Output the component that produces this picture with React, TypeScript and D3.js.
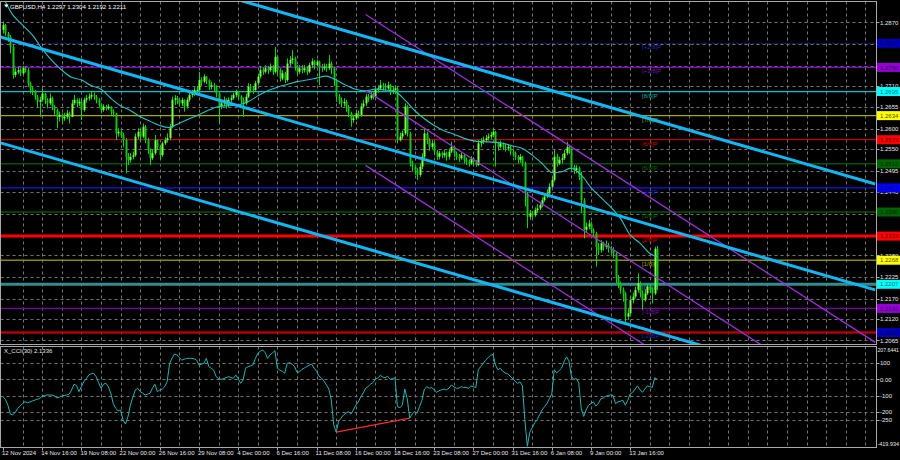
import React from "react";
import * as d3 from "d3";

// ---------------- data ----------------
const headerText = "GBPUSD,H4  1.2297 1.2304 1.2192 1.2211";
const cciTitle = "X_CCI(30) 2.1336";

const firstOpen = 1.2851;
const closes = [
  1.2863,1.2842,1.2834,1.2808,1.2737,1.2745,1.2749,1.2741,1.2754,1.2749,
  1.2716,1.2703,1.2695,1.2682,1.2669,1.2674,1.2690,1.2674,1.2665,1.2678,
  1.2657,1.2648,1.2631,1.2636,1.2627,1.2631,1.2640,1.2631,1.2665,1.2674,
  1.2665,1.2669,1.2648,1.2674,1.2678,1.2682,1.2686,1.2682,1.2674,1.2661,
  1.2648,1.2657,1.2652,1.2657,1.2644,1.2640,1.2589,1.2593,1.2585,1.2572,
  1.2530,1.2522,1.2530,1.2534,1.2581,1.2593,1.2581,1.2606,1.2572,1.2547,
  1.2526,1.2539,1.2572,1.2555,1.2534,1.2564,1.2572,1.2577,1.2606,1.2674,
  1.2678,1.2674,1.2665,1.2674,1.2657,1.2674,1.2686,1.2690,1.2699,1.2699,
  1.2724,1.2720,1.2733,1.2724,1.2707,1.2711,1.2707,1.2690,1.2657,1.2665,
  1.2674,1.2661,1.2674,1.2678,1.2686,1.2695,1.2682,1.2674,1.2665,1.2682,
  1.2707,1.2703,1.2699,1.2716,1.2733,1.2749,1.2745,1.2754,1.2749,1.2758,
  1.2745,1.2783,1.2749,1.2728,1.2741,1.2724,1.2766,1.2775,1.2779,1.2758,
  1.2745,1.2754,1.2749,1.2754,1.2745,1.2762,1.2771,1.2762,1.2771,1.2758,
  1.2754,1.2758,1.2754,1.2766,1.2754,1.2724,1.2682,1.2674,1.2665,1.2669,
  1.2657,1.2640,1.2623,1.2627,1.2640,1.2636,1.2657,1.2665,1.2682,1.2678,
  1.2686,1.2682,1.2699,1.2703,1.2711,1.2707,1.2703,1.2711,1.2695,1.2699,
  1.2703,1.2572,1.2581,1.2589,1.2657,1.2589,1.2513,1.2505,1.2496,1.2484,
  1.2505,1.2530,1.2589,1.2572,1.2555,1.2564,1.2543,1.2530,1.2539,1.2534,
  1.2539,1.2530,1.2543,1.2555,1.2539,1.2530,1.2526,1.2534,1.2522,1.2517,
  1.2513,1.2526,1.2517,1.2509,1.2564,1.2568,1.2572,1.2577,1.2581,1.2585,
  1.2593,1.2564,1.2555,1.2564,1.2555,1.2551,1.2555,1.2543,1.2539,1.2530,
  1.2522,1.2530,1.2513,1.2437,1.2378,1.2387,1.2382,1.2395,1.2399,1.2408,
  1.2420,1.2429,1.2437,1.2454,1.2471,1.2530,1.2513,1.2522,1.2526,1.2539,
  1.2555,1.2547,1.2505,1.2496,1.2501,1.2479,1.2420,1.2345,1.2353,1.2361,
  1.2345,1.2336,1.2302,1.2294,1.2311,1.2302,1.2306,1.2298,1.2294,1.2285,
  1.2226,1.2210,1.2193,1.2184,1.2125,1.2134,1.2167,1.2176,1.2193,1.2210,
  1.2184,1.2167,1.2184,1.2201,1.2193,1.2184,1.2297,1.2211,
];
const highs = [
  1.2872,1.2866,1.2846,1.2838,1.2813,1.2754,1.2758,1.2754,1.2760,1.2758,
  1.2754,1.2720,1.2707,1.2699,1.2686,1.2682,1.2703,1.2692,1.2678,1.2690,
  1.2682,1.2661,1.2652,1.2644,1.2640,1.2641,1.2648,1.2644,1.2674,1.2686,
  1.2678,1.2678,1.2674,1.2680,1.2686,1.2690,1.2695,1.2692,1.2686,1.2678,
  1.2665,1.2663,1.2661,1.2663,1.2658,1.2650,1.2641,1.2602,1.2598,1.2591,
  1.2577,1.2539,1.2539,1.2543,1.2589,1.2602,1.2598,1.2614,1.2610,1.2577,
  1.2551,1.2547,1.2585,1.2574,1.2560,1.2568,1.2579,1.2589,1.2613,1.2682,
  1.2686,1.2684,1.2678,1.2680,1.2675,1.2680,1.2692,1.2699,1.2706,1.2709,
  1.2745,1.2731,1.2739,1.2734,1.2726,1.2720,1.2717,1.2711,1.2695,1.2675,
  1.2682,1.2678,1.2680,1.2686,1.2692,1.2700,1.2697,1.2686,1.2680,1.2690,
  1.2716,1.2714,1.2709,1.2722,1.2739,1.2760,1.2756,1.2762,1.2760,1.2766,
  1.2762,1.2808,1.2787,1.2754,1.2749,1.2745,1.2779,1.2785,1.2800,1.2783,
  1.2762,1.2762,1.2762,1.2762,1.2758,1.2768,1.2779,1.2775,1.2776,1.2773,
  1.2765,1.2766,1.2765,1.2787,1.2771,1.2758,1.2728,1.2689,1.2680,1.2678,
  1.2674,1.2661,1.2644,1.2636,1.2648,1.2647,1.2665,1.2674,1.2689,1.2689,
  1.2695,1.2692,1.2706,1.2711,1.2724,1.2717,1.2716,1.2720,1.2714,1.2709,
  1.2711,1.2707,1.2591,1.2596,1.2665,1.2661,1.2593,1.2520,1.2509,1.2501,
  1.2513,1.2539,1.2602,1.2593,1.2577,1.2572,1.2568,1.2547,1.2545,1.2543,
  1.2547,1.2543,1.2551,1.2568,1.2557,1.2543,1.2537,1.2540,1.2537,1.2528,
  1.2523,1.2532,1.2528,1.2522,1.2572,1.2577,1.2581,1.2585,1.2589,1.2593,
  1.2602,1.2596,1.2568,1.2571,1.2566,1.2562,1.2562,1.2557,1.2549,1.2543,
  1.2534,1.2537,1.2532,1.2517,1.2441,1.2395,1.2393,1.2402,1.2410,1.2416,
  1.2427,1.2437,1.2447,1.2463,1.2479,1.2547,1.2537,1.2530,1.2537,1.2547,
  1.2568,1.2560,1.2551,1.2509,1.2509,1.2505,1.2492,1.2425,1.2363,1.2370,
  1.2366,1.2349,1.2340,1.2312,1.2319,1.2315,1.2318,1.2312,1.2304,1.2301,
  1.2290,1.2231,1.2214,1.2199,1.2188,1.2146,1.2176,1.2186,1.2201,1.2235,
  1.2214,1.2191,1.2194,1.2210,1.2208,1.2199,1.2302,1.2304,
];
const lows = [
  1.2842,1.2836,1.2821,1.2792,1.2728,1.2731,1.2739,1.2734,1.2737,1.2743,
  1.2707,1.2690,1.2686,1.2674,1.2655,1.2631,1.2669,1.2663,1.2652,1.2661,
  1.2648,1.2636,1.2602,1.2619,1.2614,1.2621,1.2625,1.2614,1.2630,1.2661,
  1.2655,1.2658,1.2623,1.2644,1.2667,1.2672,1.2675,1.2674,1.2665,1.2655,
  1.2640,1.2644,1.2647,1.2648,1.2636,1.2631,1.2572,1.2581,1.2577,1.2555,
  1.2488,1.2509,1.2515,1.2523,1.2530,1.2574,1.2568,1.2577,1.2564,1.2537,
  1.2509,1.2522,1.2534,1.2547,1.2522,1.2530,1.2560,1.2566,1.2572,1.2602,
  1.2661,1.2663,1.2657,1.2658,1.2644,1.2652,1.2669,1.2680,1.2684,1.2689,
  1.2695,1.2709,1.2716,1.2714,1.2699,1.2700,1.2695,1.2680,1.2614,1.2650,
  1.2658,1.2652,1.2655,1.2667,1.2674,1.2680,1.2674,1.2663,1.2631,1.2661,
  1.2678,1.2692,1.2689,1.2695,1.2711,1.2728,1.2737,1.2741,1.2739,1.2745,
  1.2737,1.2741,1.2737,1.2720,1.2724,1.2716,1.2720,1.2758,1.2765,1.2748,
  1.2737,1.2739,1.2741,1.2743,1.2737,1.2741,1.2754,1.2751,1.2758,1.2711,
  1.2745,1.2748,1.2745,1.2749,1.2739,1.2709,1.2669,1.2663,1.2655,1.2657,
  1.2644,1.2630,1.2606,1.2616,1.2623,1.2627,1.2631,1.2652,1.2658,1.2669,
  1.2674,1.2675,1.2678,1.2692,1.2699,1.2697,1.2695,1.2699,1.2686,1.2689,
  1.2690,1.2564,1.2568,1.2574,1.2585,1.2581,1.2505,1.2492,1.2484,1.2471,
  1.2479,1.2498,1.2526,1.2562,1.2545,1.2549,1.2534,1.2522,1.2523,1.2526,
  1.2528,1.2520,1.2523,1.2539,1.2530,1.2522,1.2517,1.2522,1.2513,1.2509,
  1.2505,1.2509,1.2509,1.2505,1.2506,1.2555,1.2562,1.2566,1.2571,1.2574,
  1.2579,1.2505,1.2545,1.2551,1.2547,1.2543,1.2545,1.2534,1.2530,1.2522,
  1.2513,1.2515,1.2505,1.2404,1.2349,1.2370,1.2374,1.2378,1.2388,1.2395,
  1.2402,1.2416,1.2425,1.2431,1.2450,1.2467,1.2505,1.2509,1.2513,1.2522,
  1.2534,1.2537,1.2496,1.2486,1.2488,1.2471,1.2387,1.2323,1.2338,1.2346,
  1.2336,1.2326,1.2252,1.2281,1.2287,1.2292,1.2296,1.2287,1.2284,1.2273,
  1.2210,1.2197,1.2183,1.2163,1.2104,1.2117,1.2129,1.2159,1.2171,1.2186,
  1.2174,1.2142,1.2163,1.2180,1.2184,1.2159,1.2180,1.2192,
];

// moving average [bar, price]
const maSeries: [number, number][] = [
  [0,1.2935],[4,1.2889],[8,1.2863],[12,1.2838],[16,1.2803],[20,1.2773],[24,1.2749],[28,1.2731],
  [32,1.2724],[36,1.2710],[40,1.2701],[44,1.2678],[48,1.2659],[52,1.2647],[56,1.2631],[60,1.2620],
  [64,1.2609],[68,1.2604],[72,1.2615],[76,1.2626],[80,1.2636],[84,1.2648],[88,1.2657],[92,1.2659],
  [96,1.2661],[100,1.2669],[104,1.2684],[108,1.2697],[112,1.2706],[116,1.2713],[120,1.2720],[124,1.2724],
  [128,1.2729],[132,1.2734],[136,1.2724],[140,1.2711],[144,1.2701],[148,1.2697],[152,1.2701],[156,1.2699],
  [160,1.2695],[164,1.2674],[168,1.2647],[172,1.2626],[176,1.2609],[180,1.2596],[184,1.2587],[188,1.2577],
  [192,1.2570],[196,1.2568],[200,1.2567],[204,1.2564],[208,1.2557],[212,1.2551],[216,1.2534],[220,1.2513],
  [224,1.2490],[228,1.2492],[232,1.2501],[236,1.2484],[240,1.2452],[244,1.2427],[248,1.2403],[252,1.2374],
  [256,1.2332],[260,1.2311],[264,1.2285],[267,1.2277],
];

// CCI(30) [bar, value]
const cciSeries: [number, number][] = [
  [0,-107],[1,-125],[2,-160],[3,-215],[4,-220],[5,-205],[6,-180],[7,-165],[8,-150],[9,-138],
  [10,-145],[11,-140],[12,-134],[13,-128],[14,-124],[15,-118],[16,-103],[17,-100],[18,-97],[19,-97],
  [20,-97],[21,-103],[22,-115],[23,-110],[24,-103],[25,-100],[26,-97],[27,-91],[28,-66],[29,-30],
  [30,-38],[31,-76],[32,-45],[33,-14],[34,5],[35,27],[36,35],[37,38],[38,17],[39,-20],
  [40,-55],[41,-30],[42,-24],[43,-45],[44,-86],[45,-150],[46,-180],[47,-195],[48,-190],[49,-252],
  [50,-277],[51,-232],[52,-160],[53,-110],[54,-66],[55,-55],[56,-76],[57,-85],[58,-97],[59,-92],
  [60,-86],[61,-55],[62,-30],[63,-76],[64,-66],[65,-60],[66,-45],[67,-14],[68,100],[69,131],
  [70,158],[71,152],[72,135],[73,120],[74,125],[75,131],[76,131],[77,131],[78,128],[79,120],
  [80,89],[81,95],[82,100],[83,131],[84,80],[85,69],[86,58],[87,17],[88,5],[89,0],
  [90,5],[91,10],[92,17],[93,12],[94,7],[95,27],[96,5],[97,-24],[98,-4],[99,69],
  [100,79],[101,84],[102,89],[103,130],[104,162],[105,175],[106,183],[107,166],[108,131],[109,152],
  [110,165],[111,178],[112,69],[113,58],[114,50],[115,38],[116,100],[117,104],[118,95],[119,79],
  [120,44],[121,46],[122,62],[123,71],[124,80],[125,89],[126,95],[127,70],[128,50],[129,20],
  [130,9],[131,-10],[132,-35],[133,-60],[134,-128],[135,-283],[136,-327],[137,-260],[138,-240],[139,-221],
  [140,-210],[141,-200],[142,-215],[143,-190],[144,-160],[145,-140],[146,-110],[147,-85],[148,-55],[149,-45],
  [150,-30],[151,-20],[152,0],[153,10],[154,25],[155,15],[156,10],[157,20],[158,0],[159,5],
  [160,10],[161,-170],[162,-175],[163,-160],[164,-60],[165,-120],[166,-240],[167,-215],[168,-200],[169,-210],
  [170,-170],[171,-130],[172,-60],[173,-45],[174,-55],[175,-50],[176,-65],[177,-80],[178,-70],[179,-65],
  [180,-60],[181,-65],[182,-55],[183,-35],[184,-45],[185,-55],[186,-55],[187,-45],[188,-50],[189,-50],
  [190,-55],[191,-40],[192,-45],[193,-50],[194,60],[195,80],[196,100],[197,120],[198,135],[199,150],
  [200,155],[201,90],[202,60],[203,70],[204,50],[205,40],[206,35],[207,20],[208,5],[209,-10],
  [210,-25],[211,-15],[212,-40],[213,-250],[214,-415],[215,-330],[216,-300],[217,-270],[218,-250],[219,-220],
  [220,-190],[221,-170],[222,-150],[223,-120],[224,-90],[225,60],[226,40],[227,55],[228,70],[229,110],
  [230,140],[231,115],[232,20],[233,0],[234,5],[235,-20],[236,-180],[237,-230],[238,-190],[239,-160],
  [240,-150],[241,-140],[242,-165],[243,-150],[244,-120],[245,-115],[246,-105],[247,-100],[248,-95],[249,-100],
  [250,-150],[251,-140],[252,-135],[253,-130],[254,-160],[255,-130],[256,-90],[257,-80],[258,-60],[259,-40],
  [260,-65],[261,-80],[262,-60],[263,-40],[264,-45],[265,-50],[266,10],[267,2],
];

const timeLabels = [
  "12 Nov 2024","14 Nov 16:00","19 Nov 08:00","22 Nov 00:00","26 Nov 16:00","29 Nov 08:00",
  "4 Dec 00:00","6 Dec 16:00","11 Dec 08:00","16 Dec 00:00","18 Dec 16:00","23 Dec 08:00",
  "27 Dec 00:00","31 Dec 16:00","6 Jan 08:00","9 Jan 00:00","13 Jan 16:00",
];
const timeLabelBars = [0,16,32,48,64,80,96,112,128,144,160,176,192,208,224,240,256];

const priceTicks = [1.2870,1.2815,1.2760,1.2710,1.2655,1.2600,1.2550,1.2495,1.2440,1.2385,1.2330,1.2280,1.2225,1.2170,1.2120,1.2065];
const priceDomain = [1.2065, 1.2870];

const murrayNames = ["[+2/8]P","[+1/8]P","[8/8]P","[7/8]P","[6/8]P","[5/8]P","[4/8]P","[3/8]P","[2/8]P","[1/8]P","[0/8]P","[-1/8]P","[-2/8]P"];
const murrayPrices = [1.2817,1.2756,1.2695,1.2634,1.2573,1.2512,1.2451,1.2390,1.2329,1.2268,1.2207,1.2146,1.2085];

const cciTicks = [100, 0, -100, -200, -250];
const cciTickLabels = ["100", "0.00", "-100", "-200", "-250"];
const cciRange = [-419.934, 207.6441];
const cciRangeLabels = ["-419.934", "207.6441"];

const blueChannelBars = [-1, 356];
const blueChannelFrom = [1.3101, 1.2833, 1.2565];
const blueChannelTo = [1.2461, 1.2193, 1.1925];
const purpleChannelBars = [148, 356];
const purpleChannelFrom = [1.2890, 1.2698, 1.2508];
const purpleChannelTo = [1.2060, 1.1868, 1.1678];
const divergenceBars = [136, 166];
const divergenceValues = [-327, -240];

// ---------------- styles ----------------
const MURRAY_STYLE = [
  { line: "#2424b0", w: 1, dash: "2,2", box: "#0000b8", txt: "#00005a", lab: "#2a2ab4" },
  { line: "#8c00cc", w: 1.2, dash: "", box: "#9400d3", txt: "#300050", lab: "#7a10b8" },
  { line: "#00c4cc", w: 1.2, dash: "", box: "#00ffff", txt: "#007070", lab: "#10a8a8" },
  { line: "#a8a800", w: 1.2, dash: "", box: "#ffff00", txt: "#505000", lab: "#a0a000" },
  { line: "#c00000", w: 1.3, dash: "", box: "#ff0000", txt: "#600000", lab: "#c01010" },
  { line: "#005400", w: 1.6, dash: "", box: "#006400", txt: "#002800", lab: "#0a6a0a" },
  { line: "#1818e0", w: 1.3, dash: "", box: "#0000ff", txt: "#000070", lab: "#2222c8" },
  { line: "#005400", w: 1.3, dash: "", box: "#006400", txt: "#002800", lab: "#0a6a0a" },
  { line: "#ff0000", w: 3, dash: "", box: "#ff0000", txt: "#600000", lab: "#c01010" },
  { line: "#8c8c00", w: 1.6, dash: "", box: "#ffff00", txt: "#505000", lab: "#a0a000" },
  { line: "#328c8c", w: 3, dash: "", box: "#00ffff", txt: "#007070", lab: "#10a8a8" },
  { line: "#7a00a0", w: 1.2, dash: "", box: "#9400d3", txt: "#300050", lab: "#7a10b8" },
  { line: "#b00000", w: 2.5, dash: "", box: "#0000b8", txt: "#00005a", lab: "#2a2ab4" },
];

const FONT = "'Liberation Sans', Arial, sans-serif";
const LEFT = 0.5, RIGHT = 876.5;
const MAIN_TOP = 1.5, MAIN_BOTTOM = 344.5;
const CCI_TOP = 346.5, CCI_BOTTOM = 447.5;

export default function App() {
  const x = d3.scaleLinear().domain([0, 267]).range([3, 3 + 2.45 * 267]);
  const y = d3.scaleLinear().domain(priceDomain).range([340.4, 22.4]);
  const yc = d3.scaleLinear().domain(cciRange).range([447, 346]);
  const opens = closes.map((c, i) => (i === 0 ? firstOpen : closes[i - 1]));
  const px = (v: number) => Math.round(v) + 0.5;

  const gridBars = d3.range(8, 360, 8).filter((b) => x(b) < RIGHT - 2);

  const maLine = d3
    .line<[number, number]>()
    .x((d) => x(d[0]))
    .y((d) => y(d[1]))
    .curve(d3.curveCatmullRom.alpha(0.5));
  const cciLine = d3
    .line<[number, number]>()
    .x((d) => x(d[0]))
    .y((d) => yc(d[1]));

  return (
    <svg
      width={900}
      height={460}
      style={{ position: "fixed", left: 0, top: 0, display: "block" }}
      fontFamily={FONT}
    >
      <defs>
        <clipPath id="mainClip">
          <rect x={1} y={2} width={875} height={342} />
        </clipPath>
        <clipPath id="cciClip">
          <rect x={1} y={347} width={875} height={100} />
        </clipPath>
      </defs>
      <rect x={0} y={0} width={900} height={460} fill="#000" />

      {/* grid */}
      <g stroke="#8a8a8a" strokeWidth={1} strokeDasharray="3,3" opacity={0.85}>
        {gridBars.map((b) => (
          <line key={"vg" + b} x1={px(x(b))} x2={px(x(b))} y1={MAIN_TOP} y2={MAIN_BOTTOM} />
        ))}
        {gridBars.map((b) => (
          <line key={"vgc" + b} x1={px(x(b))} x2={px(x(b))} y1={CCI_TOP} y2={CCI_BOTTOM} />
        ))}
        {priceTicks.map((p) => (
          <line key={"hg" + p} x1={LEFT} x2={RIGHT} y1={px(y(p))} y2={px(y(p))} />
        ))}
        {cciTicks.map((v) => (
          <line key={"hc" + v} x1={LEFT} x2={RIGHT} y1={px(yc(v))} y2={px(yc(v))} />
        ))}
      </g>

      {/* main panel content */}
      <g clipPath="url(#mainClip)">
        {murrayPrices.map((p, i) => (
          <line
            key={"ml" + i}
            x1={LEFT}
            x2={RIGHT}
            y1={y(p)}
            y2={y(p)}
            stroke={MURRAY_STYLE[i].line}
            strokeWidth={MURRAY_STYLE[i].w}
            strokeDasharray={MURRAY_STYLE[i].dash || undefined}
          />
        ))}
        {murrayPrices.map((p, i) => (
          <text
            key={"mt" + i}
            x={642}
            y={y(p) + 6}
            fontSize={6}
            fill={MURRAY_STYLE[i].lab}
          >
            {murrayNames[i]}
          </text>
        ))}

        {/* candles */}
        {closes.map((c, i) => {
          const o = opens[i];
          const xc = px(x(i));
          const y0 = y(o), y1 = y(c);
          const top = Math.min(y0, y1);
          const bh = Math.max(1, Math.abs(y0 - y1));
          const bull = c >= o;
          return (
            <g key={"c" + i}>
              <line x1={xc} x2={xc} y1={y(highs[i])} y2={y(lows[i])} stroke="#00dc00" strokeWidth={1} />
              <rect x={xc - 1} y={top} width={2} height={bh} fill={bull ? "#7dff4a" : "#18c018"} />
            </g>
          );
        })}

        {/* moving average */}
        <path d={maLine(maSeries) || ""} fill="none" stroke="#2cc0c0" strokeWidth={1.1} />

        {/* purple regression channel */}
        {purpleChannelFrom.map((p, i) => (
          <line
            key={"pc" + i}
            x1={x(purpleChannelBars[0])}
            x2={x(purpleChannelBars[1])}
            y1={y(p)}
            y2={y(purpleChannelTo[i])}
            stroke="#9a32d8"
            strokeWidth={1.3}
          />
        ))}
        {/* blue trend channel */}
        {blueChannelFrom.map((p, i) => (
          <line
            key={"bc" + i}
            x1={x(blueChannelBars[0])}
            x2={x(blueChannelBars[1])}
            y1={y(p)}
            y2={y(blueChannelTo[i])}
            stroke="#13b6f2"
            strokeWidth={3}
          />
        ))}
      </g>

      {/* CCI panel */}
      <g clipPath="url(#cciClip)">
        <path d={cciLine(cciSeries) || ""} fill="none" stroke="#25b4b4" strokeWidth={1} />
        <line
          x1={x(divergenceBars[0])}
          x2={x(divergenceBars[1])}
          y1={yc(divergenceValues[0])}
          y2={yc(divergenceValues[1])}
          stroke="#ff2a2a"
          strokeWidth={1.3}
        />
      </g>

      {/* frames */}
      <g fill="none" stroke="#a8a8a8" strokeWidth={1}>
        <rect x={LEFT} y={MAIN_TOP} width={RIGHT - LEFT} height={MAIN_BOTTOM - MAIN_TOP} />
        <rect x={LEFT} y={CCI_TOP} width={RIGHT - LEFT} height={CCI_BOTTOM - CCI_TOP} />
      </g>

      {/* header */}
      <path d="M4,4.5 L8.5,4.5 L6.25,7.5 Z" fill="#ffffff" />
      <text x={10} y={8.6} fontSize={6.1} fill="#ffffff">
        {headerText}
      </text>
      <text x={4} y={352.5} fontSize={6} fill="#e6e6e6">
        {cciTitle}
      </text>

      {/* right price axis */}
      <g fontSize={6} fill="#e8e8e8">
        {priceTicks.map((p) => (
          <g key={"pt" + p}>
            <line x1={RIGHT} x2={RIGHT + 3} y1={px(y(p))} y2={px(y(p))} stroke="#a8a8a8" />
            <text x={880} y={y(p) + 2.1}>
              {p.toFixed(4)}
            </text>
          </g>
        ))}
      </g>
      {murrayPrices.map((p, i) => (
        <g key={"mb" + i}>
          <rect x={877} y={y(p) - 4.5} width={24} height={9} fill={MURRAY_STYLE[i].box} />
          <text x={880} y={y(p) + 2.1} fontSize={6} fill={MURRAY_STYLE[i].txt}>
            {p.toFixed(4)}
          </text>
        </g>
      ))}

      {/* CCI axis */}
      <g fontSize={6} fill="#e8e8e8">
        {cciTicks.map((v, i) => (
          <g key={"ct" + v}>
            <line x1={RIGHT} x2={RIGHT + 3} y1={px(yc(v))} y2={px(yc(v))} stroke="#a8a8a8" />
            <text x={880} y={yc(v) + 2.1}>
              {cciTickLabels[i]}
            </text>
          </g>
        ))}
        <text x={877.5} y={yc(cciRange[1]) + 6.2} fontSize={5.6} textLength={21.5} lengthAdjust="spacingAndGlyphs">
          {cciRangeLabels[1]}
        </text>
        <text x={877.5} y={yc(cciRange[0]) - 1} fontSize={5.6} textLength={21.5} lengthAdjust="spacingAndGlyphs">
          {cciRangeLabels[0]}
        </text>
      </g>

      {/* time axis */}
      <g fontSize={6} fill="#e8e8e8">
        {timeLabelBars.map((b, i) => (
          <g key={"tl" + b}>
            <line x1={px(x(b))} x2={px(x(b))} y1={CCI_BOTTOM} y2={CCI_BOTTOM + 3} stroke="#a8a8a8" />
            <text x={x(b) - 1} y={455}>
              {timeLabels[i]}
            </text>
          </g>
        ))}
      </g>
    </svg>
  );
}
